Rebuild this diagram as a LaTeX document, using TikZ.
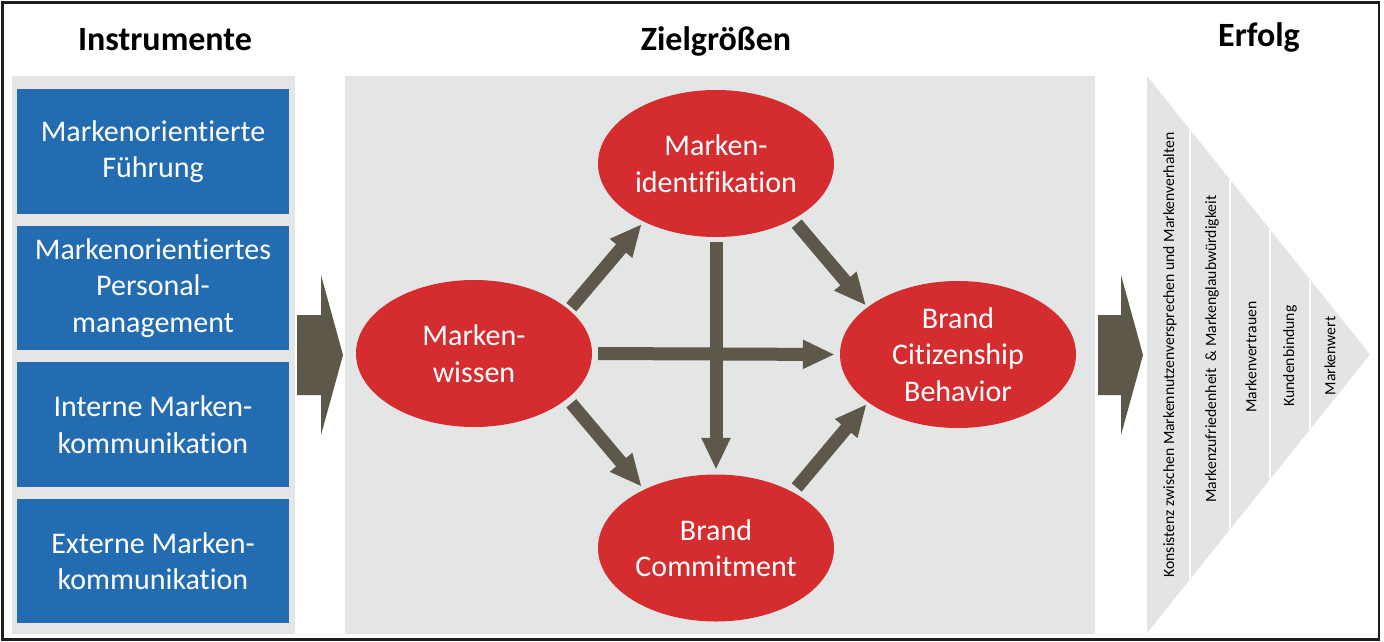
\documentclass[tikz,border=0pt]{standalone}
\usepackage{fontspec}
\setmainfont{Carlito}[Ligatures=NoCommon]
\usetikzlibrary{arrows.meta,calc,shapes.geometric}
\definecolor{panelgrey}{RGB}{228,230,230}
\definecolor{boxblue}{RGB}{36,108,178}
\definecolor{ellred}{RGB}{212,44,47}
\definecolor{arrowbrown}{RGB}{94,88,74}
\definecolor{trigrey}{RGB}{227,228,228}
\definecolor{framecol}{RGB}{30,30,30}
\begin{document}
\begin{tikzpicture}[x=1pt,y=-1pt,
  header/.style={font=\fontsize{34}{41}\selectfont\bfseries, inner sep=0pt, anchor=base},
  panel/.style={fill=panelgrey, inner sep=0pt, anchor=north west},
  instbox/.style={fill=boxblue, text=white, minimum width=272pt, minimum height=124.5pt, inner sep=0pt, align=center, font=\fontsize{30}{36.6}\selectfont},
  goal/.style={ellipse, fill=ellred, text=white, minimum width=236pt, minimum height=147pt, inner sep=0pt, align=center, font=\fontsize{30}{36.6}\selectfont},
  flow/.style={draw=arrowbrown, line width=13pt, -{Triangle[width=27pt,length=32pt]}},
  blockarrow/.style={fill=arrowbrown},
  bandtext/.style={rotate=90, font=\fontsize{15.7}{19}\selectfont, inner sep=0pt},
  bandsep/.style={draw=white, line width=2pt}
]
\useasboundingbox (0,0) rectangle (1384,642);
\fill[white] (0,0) rectangle (1384,642);

% headers
\node[header] (h1) at (165,51) {Instrumente};
\node[header] (h2) at (716,51) {Zielgrößen};
\node[header] (h3) at (1259,47) {Erfolg};

% panels
\node[panel, minimum width=283pt, minimum height=558pt] (lp) at (12,76) {};
\node[panel, minimum width=750pt, minimum height=558pt] (mp) at (345,76) {};

% instrument boxes
\node[instbox] (b1) at (153,151.5) {Markenorientierte\\Führung};
\node[instbox] (b2) at (153,288) {Markenorientiertes\\Personal-\\management};
\node[instbox] (b3) at (153,424.5) {Interne Marken-\\kommunikation};
\node[instbox] (b4) at (153,561) {Externe Marken-\\kommunikation};

% block arrows
\fill[blockarrow] (297,315) -- (321,315) -- (321,275) -- (343,355) -- (321,435) -- (321,395) -- (297,395) -- cycle;
\fill[blockarrow] (1098,315) -- (1121,315) -- (1121,275) -- (1143,355) -- (1121,435) -- (1121,395) -- (1098,395) -- cycle;

% goal ellipses
\node[goal] (mi) at (716,163.5) {Marken-\\identifikation};
\node[goal] (mw) at (474,353.5) {Marken-\\wissen};
\node[goal] (bc) at (716,548) {Brand\\Commitment};
\node[goal] (bcb) at (958,354.5) {Brand\\Citizenship\\Behavior};

% flows
\draw[flow, shorten <=6pt, shorten >=5pt] (mw.east) -- (bcb.west);
\draw[flow, shorten <=5pt, shorten >=4.5pt] (mi.south) -- (bc.north);
\draw[flow] ($(mw.center)+(97.3,-46.3)$) -- ($(mi.center)+(-74.3,60.5)$);
\draw[flow] ($(mw.center)+(97.3,49.8)$) -- ($(bc.center)+(-74.3,-61.3)$);
\draw[flow] ($(mi.center)+(80.7,60.2)$) -- ($(bcb.center)+(-92,-49)$);
\draw[flow] ($(bc.center)+(80.7,-60.5)$) -- ($(bcb.center)+(-91.3,49.5)$);

% success triangle
\fill[trigrey] (1147,76) -- (1370,354.5) -- (1147,633) -- cycle;
\draw[bandsep] (1190,129.7) -- (1190,579.3);
\draw[bandsep] (1230,179.7) -- (1230,529.3);
\draw[bandsep] (1270,229.6) -- (1270,479.4);
\draw[bandsep] (1310,279.6) -- (1310,429.4);
\node[bandtext] (t1) at (1170,355) {Konsistenz zwischen Markennutzenversprechen und Markenverhalten};
\node[bandtext] (t2) at (1212,349) {Markenzufriedenheit \ \& Markenglaubwürdigkeit};
\node[bandtext] (t3) at (1251,357) {Markenvertrauen};
\node[bandtext] (t4) at (1290,356) {Kundenbindung};
\node[bandtext] (t5) at (1330,356) {Markenwert};

% frame
\draw[framecol, line width=2.5pt] (2.5,2.5) rectangle (1379,639.5);
\end{tikzpicture}
\end{document}
